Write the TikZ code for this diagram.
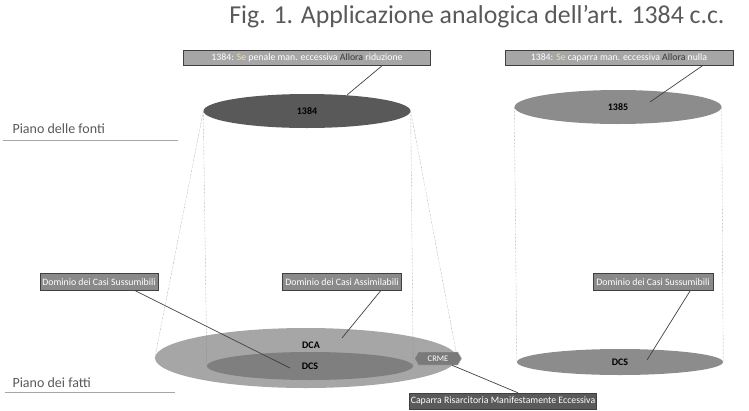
\documentclass[tikz,border=0pt]{standalone}
\usepackage{fontspec}
\setmainfont{Carlito}
\usetikzlibrary{shapes.geometric,shapes.symbols}
\definecolor{titlegray}{HTML}{595959}
\definecolor{darkline}{HTML}{404040}
\definecolor{fontegray}{HTML}{595959}
\definecolor{casogray}{HTML}{8C8C8C}
\definecolor{dcagray}{HTML}{A6A6A6}
\definecolor{dcsgray}{HTML}{7F7F7F}
\definecolor{topgray}{HTML}{A6A6A6}
\definecolor{tagfill}{HTML}{8A8A8A}
\definecolor{crmefill}{HTML}{7A7A7A}
\definecolor{caparrafill}{HTML}{5A5A5A}
\definecolor{setan}{HTML}{F0DDB8}
\definecolor{alloradark}{HTML}{3A3A3A}

\begin{document}
\begin{tikzpicture} [x=1pt, y=-1pt,
	disc/.style={ellipse, inner sep=0pt, font=\fontsize{10}{11}\selectfont\bfseries},
	tag/.style={draw=darkline, fill=tagfill, text=white, inner sep=0pt, minimum height=17pt, font=\fontsize{9.8}{11}\selectfont},
	topbox/.style={tag, fill=topgray, minimum height=15pt},
	link/.style={darkline, line width=0.7pt},
	guide/.style={densely dotted, gray, line width=0.4pt},
	piano/.style={anchor=base west, text=titlegray, font=\fontsize{14}{16}\selectfont}]
	\path [use as bounding box] (0,0) rectangle (749,410);
	\node [text=titlegray, font=\fontsize{25.8}{30}\selectfont] (title) at (477,17) {Fig. 1. Applicazione analogica dell’art. 1384 c.c.};
	\node [piano] (fonti) at (9,133) {Piano delle fonti};
	\draw [dcagray, line width=0.9pt] (3,140) -- (178,140);
	\node [piano] (fatti) at (9,387) {Piano dei fatti};
	\draw [dcagray, line width=0.9pt] (5,392) -- (175,392);
	\node [disc, fill=fontegray, minimum width=207pt, minimum height=34pt] (n1384) at (307,111) {1384};
	\node [disc, fill=casogray, minimum width=207pt, minimum height=34pt] (n1385) at (618,107) {1385};
	\node [disc, fill=dcagray, minimum width=302pt, minimum height=60pt] (dca) at (306,358) {};
	\node [disc] (dcaT) at (311,345) {DCA};
	\node [disc, fill=dcsgray, minimum width=206pt, minimum height=28pt] (dcs) at (310,366) {DCS};
	\node [disc, fill=casogray, minimum width=206pt, minimum height=26pt] (dcsR) at (620,362) {DCS};
	\draw [guide] (n1384.west) -- (dcs.west);
	\draw [guide] (n1384.west) -- (dca.west);
	\draw [guide] (n1384.east) -- (dcs.east);
	\draw [guide] (n1384.east) -- (dca.east);
	\draw [guide] (n1385.west) -- (dcsR.west);
	\draw [guide] (n1385.east) -- (dcsR.east);
	\node [topbox, minimum width=247pt] (se1384) at (307,57.5) {1384: \textcolor{setan}{Se} penale man. eccessiva \textcolor{alloradark}{Allora} riduzione};
	\node [topbox, minimum width=228pt] (se1385) at (619,57.5) {1384: \textcolor{setan}{Se} caparra man. eccessiva \textcolor{alloradark}{Allora} nulla};
	\node [tag, minimum width=118pt] (sussL) at (99,282) {Dominio dei Casi Sussumibili};
	\node [tag, minimum width=119pt] (assim) at (342,282) {Dominio dei Casi Assimilabili};
	\node [tag, minimum width=120pt] (sussR) at (653,282) {Dominio dei Casi Sussumibili};
	\node [signal, signal to=west and east, signal pointer angle=120, fill=crmefill, draw=gray!60, text=white,
		minimum width=47pt, minimum height=13pt, inner sep=1pt, font=\fontsize{8.5}{9}\selectfont] (crme) at (438,358.5) {CRME};
	\node [tag, fill=caparrafill, minimum width=187pt, minimum height=16pt] (caparra) at (503,401) {Caparra Risarcitoria Manifestamente Eccessiva};
	\coordinate (p1384) at (347,95);
	\coordinate (p1385) at (650,102);
	\coordinate (pdcs) at (290,368);
	\coordinate (pdca) at (342,338);
	\coordinate (pdcsR) at (647,360);
	\draw [link] ([xshift=-48pt]se1384.south east) -- (p1384);
	\draw [link] ([xshift=-30pt]se1385.south east) -- (p1385);
	\draw [link] ([xshift=-23pt]sussL.south east) -- (pdcs);
	\draw [link] ([xshift=-21pt]assim.south east) -- (pdca);
	\draw [link] ([xshift=-23pt]sussR.south east) -- (pdcsR);
	\draw [link] ([xshift=14pt]crme.south) -- ([xshift=15pt]caparra.north);
\end{tikzpicture}
\end{document}
